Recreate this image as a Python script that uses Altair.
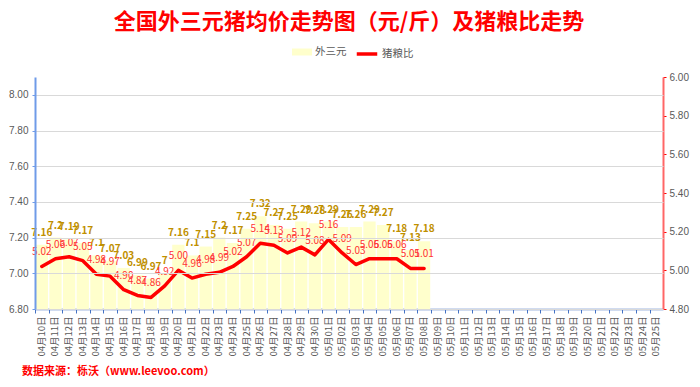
import altair as alt
import pandas as pd

dates = ([f"04月{d:02d}日" for d in range(10, 31)] +
         [f"05月{d:02d}日" for d in range(1, 26)])

price = [7.16, 7.2, 7.19, 7.17, 7.1, 7.07, 7.03, 6.99, 6.97, 7,
         7.16, 7.1, 7.15, 7.2, 7.17, 7.25, 7.32, 7.27, 7.25, 7.29,
         7.28, 7.29, 7.26, 7.26, 7.29, 7.27, 7.18, 7.13, 7.18]

ratio = [5.02, 5.06, 5.07, 5.05, 4.98, 4.97, 4.90, 4.87, 4.86, 4.92,
         5.00, 4.96, 4.98, 4.99, 5.02, 5.07, 5.14, 5.13, 5.09, 5.12,
         5.08, 5.16, 5.09, 5.03, 5.06, 5.06, 5.06, 5.01, 5.01]

left_ticks = [6.8, 7.0, 7.2, 7.4, 7.6, 7.8, 8.0]
right_ticks = [4.8, 5.0, 5.2, 5.4, 5.6, 5.8, 6.0]

title_text = "全国外三元猪均价走势图（元/斤）及猪粮比走势"
source_text = "数据来源：栎沃（www.leevoo.com）"

n = len(price)
df_bar = pd.DataFrame({
    "date": dates[:n],
    "price": price,
    "plabel": [f"{v:g}" for v in price],
    "series": ["外三元"] * n,
})
df_line = pd.DataFrame({
    "date": dates[:n],
    "ratio": ratio,
    "rlabel": [f"{v:.2f}" for v in ratio],
    "series2": ["猪粮比"] * n,
})

FONT = "Noto Sans CJK SC"
NUMFONT = "Liberation Sans"
GRAY = "#595959"

x_axis = alt.Axis(title=None, labelAngle=270, labelFontSize=9.5,
                  labelColor=GRAY, labelFont=FONT,
                  domainColor="#4472C4", domainWidth=1.5,
                  tickColor="#4472C4", tickSize=4, bandPosition=0,
                  labelPadding=3)
x_scale = alt.Scale(domain=dates, paddingInner=0.1, paddingOuter=0.05)

left_axis = alt.Axis(orient="left", title=None, values=left_ticks, tickCount=7,
                     format=".2f",
                     labelColor=GRAY, labelFontSize=10, labelFont=NUMFONT,
                     labelOverlap=False, labelFlush=False,
                     domainColor="#6F9BE8", domainWidth=2,
                     tickColor="#6F9BE8", tickSize=3, labelPadding=4,
                     grid=True, gridColor="#D9D9D9", gridWidth=1.2, zindex=1)
right_axis = alt.Axis(orient="right", title=None, values=right_ticks, tickCount=7,
                      format=".2f",
                      labelColor=GRAY, labelFontSize=10, labelFont=NUMFONT,
                      labelOverlap=False, labelFlush=False,
                      domainColor="#FF6666", domainWidth=2,
                      tickColor="#FF0000", tickSize=3, labelPadding=3,
                      grid=False)

y_left_scale = alt.Scale(domain=[6.8, 8.1], zero=False, nice=False)
y_right_scale = alt.Scale(domain=[4.8, 6.0], zero=False, nice=False)

bars = alt.Chart(df_bar).mark_bar(strokeWidth=0).encode(
    x=alt.X("date:N", scale=x_scale, sort=dates, axis=x_axis),
    y=alt.Y("price:Q", scale=y_left_scale, axis=left_axis),
    y2=alt.datum(6.8),
    fill=alt.Fill("series:N",
                  scale=alt.Scale(domain=["外三元"], range=["#FFFFCC"]),
                  legend=alt.Legend(title=None, orient="none", legendX=257, legendY=-35,
                                    symbolType="M-1,-0.35H1V0.35H-1Z", symbolSize=400,
                                    symbolStrokeWidth=0, labelColor=GRAY,
                                    labelFontSize=10.5, labelFont=FONT, labelOffset=3)),
)

bar_text = alt.Chart(df_bar).mark_text(
    dy=-12, baseline="middle", fontSize=10, fontWeight="bold",
    color="#BF9000", font=FONT
).encode(
    x=alt.X("date:N", scale=x_scale, sort=dates, axis=x_axis),
    y=alt.Y("price:Q", scale=y_left_scale, axis=left_axis),
    text="plabel:N",
)

line = alt.Chart(df_line).mark_line(strokeWidth=3.5, strokeJoin="round",
                                     strokeCap="round").encode(
    x=alt.X("date:N", scale=x_scale, sort=dates, axis=x_axis),
    y=alt.Y("ratio:Q", scale=y_right_scale, axis=right_axis),
    stroke=alt.Stroke("series2:N",
                      scale=alt.Scale(domain=["猪粮比"], range=["#FF0000"]),
                      legend=alt.Legend(title=None, orient="none", legendX=320, legendY=-35,
                                        symbolType="stroke", symbolSize=420,
                                        symbolStrokeWidth=3.5, labelColor=GRAY,
                                        labelFontSize=10.5, labelFont=FONT, labelOffset=3)),
)

line_text = alt.Chart(df_line).mark_text(
    dy=-14, baseline="middle", fontSize=10, color="#FF3333", font=FONT
).encode(
    x=alt.X("date:N", scale=x_scale, sort=dates, axis=x_axis),
    y=alt.Y("ratio:Q", scale=y_right_scale, axis=right_axis),
    text="rlabel:N",
)

source = alt.Chart(pd.DataFrame({"t": [source_text]})).mark_text(
    align="left", baseline="middle", fontSize=11, fontWeight="bold",
    color="#FF0000", font=FONT
).encode(
    x=alt.value(-13),
    y=alt.value(295),
    text="t:N",
)

title = alt.Chart(pd.DataFrame({"t": [title_text]})).mark_text(
    align="center", baseline="middle", fontSize=22, fontWeight="bold",
    color="#FF0000", font=FONT
).encode(
    x=alt.value(314),
    y=alt.value(-55),
    text="t:N",
)

left = alt.layer(bars, bar_text, source, title)
right = alt.layer(line, line_text)

chart = alt.layer(left, right).resolve_scale(y="independent").properties(
    width=628, height=232,
    autosize=alt.AutoSizeParams(type="none"),
    padding={"left": 27, "top": 69, "right": 29, "bottom": 70},
).configure_view(stroke=None)

chart.save("out.html", embed_options={"renderer": "svg", "actions": False})
